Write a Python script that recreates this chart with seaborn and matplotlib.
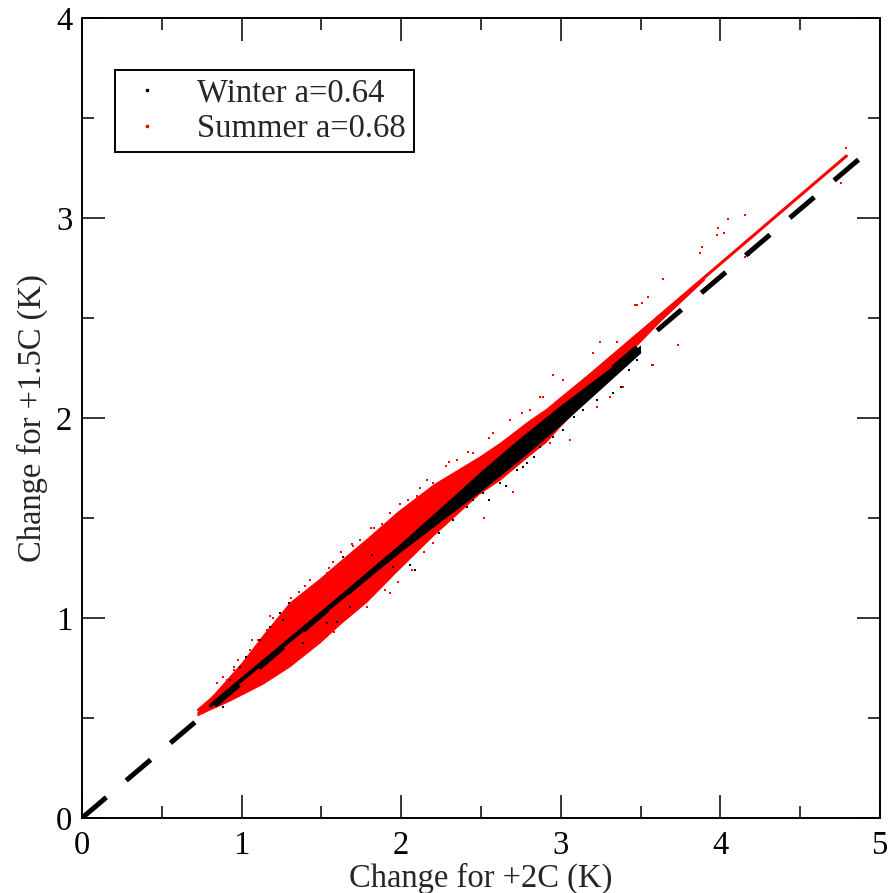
import numpy as np
import matplotlib
matplotlib.use("Agg")
import matplotlib.pyplot as plt
from matplotlib.lines import Line2D
import seaborn as sns

sns.set_style("ticks")
plt.rcParams['font.family'] = ['Liberation Serif', 'DejaVu Serif']

# dense core of each cloud (solid band)
summer_core_x = [0.72, 0.80, 0.90, 1.00, 1.135, 1.30, 1.49, 1.62, 1.785, 1.97, 2.20, 2.49, 2.62, 2.80, 2.91, 3.00, 3.20, 3.45, 3.62, 3.90]
summer_core_lo = [0.51, 0.54, 0.575, 0.615, 0.67, 0.755, 0.875, 0.97, 1.08, 1.23, 1.41, 1.62, 1.69, 1.81, 1.88, 1.96, 2.12, 2.34, 2.48, 2.69]
summer_core_hi = [0.53, 0.60, 0.69, 0.78, 0.92, 1.08, 1.20, 1.29, 1.40, 1.53, 1.67, 1.81, 1.88, 1.99, 2.05, 2.11, 2.24, 2.41, 2.52, 2.71]

winter_core_x = [0.80, 1.00, 1.25, 1.50, 1.75, 2.00, 2.25, 2.50, 2.75, 3.00, 3.25, 3.50]
winter_core_lo = [0.551, 0.682, 0.846, 1.010, 1.172, 1.333, 1.485, 1.635, 1.795, 1.965, 2.145, 2.325]
winter_core_hi = [0.575, 0.708, 0.874, 1.040, 1.208, 1.377, 1.555, 1.735, 1.905, 2.065, 2.215, 2.365]

# scattered points around the cores
summer_x = [0.76, 0.865, 0.91, 0.95, 1.03, 1.065, 1.10, 0.845, 0.885, 0.95, 0.98, 1.05, 1.10, 1.16,
            1.22, 1.28, 1.35, 1.41, 1.47, 1.535, 1.05, 1.13, 1.24, 1.32, 1.45, 1.51, 1.74, 1.93, 2.04,
            2.20, 1.785, 1.93, 2.07, 2.20, 2.37, 2.45, 2.575, 2.68, 2.76, 2.87, 2.26, 2.95, 3.015, 3.20,
            3.245, 3.35, 3.48, 3.51, 3.58, 2.89, 2.81, 3.39, 3.31, 3.23, 3.06, 2.93, 2.83, 4.155, 4.05,
            3.985, 4.02, 3.98, 3.885, 3.87, 3.64, 3.545, 3.465, 4.155, 3.735, 3.57, 4.79, 4.755, 4.18,
            1.62, 1.83, 2.12, 2.30, 1.40, 1.58, 1.98, 2.52, 2.70, 1.18, 1.36, 1.55, 1.70, 1.88, 2.10,
            2.35, 2.55, 1.27, 1.44, 1.66, 1.90, 2.14, 1.20, 1.31, 1.43, 1.57, 1.69, 1.81, 1.99, 2.16,
            2.28, 2.42]
summer_y = [0.525, 0.59, 0.69, 0.74, 0.79, 0.89, 0.675, 0.675, 0.705, 0.755, 0.79, 0.84, 0.89, 0.94,
            0.975, 1.025, 1.09, 1.125, 1.175, 1.225, 0.655, 0.69, 0.74, 0.79, 0.89, 0.94, 1.39, 1.525,
            1.59, 1.675, 1.055, 1.125, 1.24, 1.375, 1.74, 1.825, 1.925, 1.99, 2.025, 2.105, 1.675, 2.215,
            2.19, 2.325, 2.38, 2.38, 2.565, 2.575, 2.265, 2.105, 2.04, 2.155, 2.105, 2.055, 1.89, 1.875,
            1.855, 3.015, 2.995, 2.95, 2.925, 2.915, 2.855, 2.825, 2.695, 2.605, 2.565, 2.805, 2.365,
            2.265, 3.35, 3.175, 2.815, 1.33, 1.45, 1.65, 1.78, 1.16, 0.93, 1.18, 1.50, 1.63, 1.01, 1.13,
            1.25, 1.36, 1.47, 1.61, 1.79, 1.90, 0.76, 0.87, 1.00, 1.14, 1.33, 1.00, 1.10, 1.19, 1.28,
            1.37, 1.45, 1.57, 1.69, 1.76, 1.83]

winter_x = [1.30, 1.24, 1.18, 1.115, 1.03, 0.99, 0.93, 0.885, 1.635, 1.82, 2.085, 2.055, 1.60, 1.26,
            1.385, 1.535, 1.68, 1.95, 2.24, 2.325, 2.41, 2.45, 2.20, 2.305, 2.51, 2.62, 2.725, 2.79,
            2.87, 2.89, 3.33, 3.38, 3.43, 3.475, 3.225, 3.14, 3.08, 3.015, 2.95, 2.83, 2.765, 2.55,
            2.66, 3.18, 3.29]
winter_y = [1.075, 1.025, 0.955, 0.89, 0.805, 0.755, 0.69, 0.555, 1.305, 1.315, 1.24, 1.265, 0.98, 0.99,
            0.875, 0.975, 1.055, 1.255, 1.425, 1.49, 1.555, 1.59, 1.455, 1.525, 1.625, 1.675, 1.74, 1.775,
            1.855, 1.89, 2.125, 2.155, 2.24, 2.29, 2.09, 2.04, 2.005, 1.94, 1.905, 1.805, 1.755, 1.59,
            1.66, 2.16, 2.21]

# fitted lines and the reference line
summer_fit_x = [0.73, 4.79]
summer_fit_y = [0.54, 3.31]
winter_fit_x = [0.80, 3.47]
winter_fit_y = [0.56, 2.31]
ref_x = [0.0, 4.93]
ref_y = [0.0, 3.335]

FS = 23.5

fig = plt.figure(figsize=(8.91, 8.93), dpi=100)
ax = fig.add_axes([0.092, 0.084, 0.8956, 0.8959])

ax.fill_between(summer_core_x, summer_core_lo, summer_core_hi, color='red', lw=0, zorder=2)
sns.scatterplot(x=summer_x, y=summer_y, color='red', marker='s', s=3, linewidth=0, ax=ax, zorder=3)
ax.plot(summer_fit_x, summer_fit_y, color='red', lw=2.2, zorder=3)

ax.fill_between(winter_core_x, winter_core_lo, winter_core_hi, color='black', lw=0, zorder=4)
sns.scatterplot(x=winter_x, y=winter_y, color='black', marker='s', s=3, linewidth=0, ax=ax, zorder=5)
ax.plot(winter_fit_x, winter_fit_y, color='black', lw=1.5, zorder=5)

ax.plot(ref_x, ref_y, color='black', lw=3.6, dashes=(6.4, 5.2), solid_capstyle='butt',
        dash_capstyle='butt', zorder=6)

ax.set_xlim(0, 5)
ax.set_ylim(0, 4)
ax.set_xticks([0, 1, 2, 3, 4, 5])
ax.set_yticks([0, 1, 2, 3, 4])
ax.set_xticks(np.arange(0, 5.01, 0.5), minor=True)
ax.set_yticks(np.arange(0, 4.01, 0.5), minor=True)
ax.tick_params(which='both', direction='in', top=True, right=True, width=1.1, colors='black')
ax.tick_params(which='major', length=16.5)
ax.tick_params(which='minor', length=8.6)
ax.tick_params(axis='x', which='major', labelsize=FS, pad=9)
ax.tick_params(axis='y', which='major', labelsize=FS, pad=7)
for side in ax.spines.values():
    side.set_linewidth(1.4)
    side.set_color('black')

ax.set_xlabel('Change for +2C (K)', fontsize=FS, labelpad=1)
ax.set_ylabel('Change for +1.5C (K)', fontsize=FS, labelpad=6)

handles = [Line2D([], [], ls='none', marker='s', markersize=1.5, color='black'),
           Line2D([], [], ls='none', marker='s', markersize=1.5, color='red')]
leg = ax.legend(handles, ['Winter a=0.64', 'Summer a=0.68'], loc='upper left',
                bbox_to_anchor=(0.0414, 0.935), borderaxespad=0, fontsize=FS,
                frameon=True, fancybox=False, edgecolor='black', framealpha=1,
                handlelength=1.47, handletextpad=0.8, borderpad=0.25, labelspacing=0.15)
leg.get_frame().set_linewidth(1.4)

fig.savefig('out.png', dpi=100)
